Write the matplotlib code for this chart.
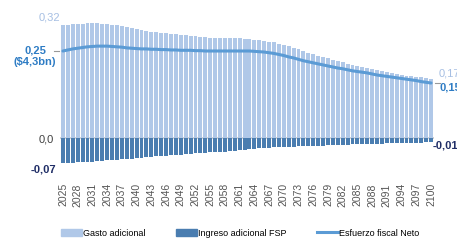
import matplotlib
matplotlib.use("Agg")
import matplotlib.pyplot as plt
from matplotlib.patches import Patch
from matplotlib.lines import Line2D

years = list(range(2025, 2101))
gasto = [0.324, 0.326, 0.327, 0.328, 0.329, 0.330, 0.330, 0.330, 0.329, 0.328,
         0.326, 0.324, 0.321, 0.318, 0.315, 0.313, 0.310, 0.308, 0.306, 0.305,
         0.303, 0.302, 0.300, 0.299, 0.297, 0.295, 0.294, 0.292, 0.291, 0.289,
         0.288, 0.288, 0.287, 0.287, 0.286, 0.286, 0.286, 0.285, 0.284, 0.283,
         0.281, 0.279, 0.277, 0.275, 0.271, 0.267, 0.263, 0.259, 0.255, 0.250,
         0.245, 0.241, 0.237, 0.233, 0.229, 0.225, 0.221, 0.218, 0.214, 0.211,
         0.208, 0.205, 0.201, 0.198, 0.195, 0.193, 0.190, 0.187, 0.184, 0.181,
         0.179, 0.177, 0.175, 0.174, 0.172, 0.170]
ingreso = [-0.073, -0.072, -0.071, -0.070, -0.069, -0.069, -0.068, -0.067, -0.065, -0.064,
           -0.063, -0.062, -0.061, -0.060, -0.059, -0.058, -0.057, -0.056, -0.055, -0.053,
           -0.052, -0.051, -0.050, -0.049, -0.048, -0.047, -0.045, -0.044, -0.043, -0.042,
           -0.041, -0.040, -0.040, -0.039, -0.038, -0.037, -0.035, -0.034, -0.032, -0.031,
           -0.030, -0.029, -0.028, -0.027, -0.027, -0.026, -0.026, -0.025, -0.024, -0.024,
           -0.023, -0.023, -0.022, -0.022, -0.021, -0.021, -0.020, -0.019, -0.019, -0.018,
           -0.018, -0.017, -0.017, -0.017, -0.016, -0.016, -0.015, -0.015, -0.015, -0.014,
           -0.014, -0.013, -0.013, -0.013, -0.012, -0.012]
neto = [0.250, 0.253, 0.256, 0.258, 0.260, 0.262, 0.263, 0.264, 0.264, 0.264,
        0.263, 0.262, 0.261, 0.259, 0.258, 0.257, 0.256, 0.256, 0.255, 0.255,
        0.254, 0.254, 0.253, 0.253, 0.252, 0.252, 0.252, 0.251, 0.251, 0.250,
        0.250, 0.250, 0.250, 0.250, 0.250, 0.250, 0.250, 0.250, 0.250, 0.249,
        0.248, 0.247, 0.245, 0.243, 0.240, 0.237, 0.233, 0.230, 0.226, 0.222,
        0.219, 0.216, 0.213, 0.210, 0.207, 0.204, 0.201, 0.199, 0.196, 0.193,
        0.191, 0.189, 0.187, 0.184, 0.181, 0.179, 0.177, 0.175, 0.173, 0.171,
        0.169, 0.167, 0.165, 0.162, 0.160, 0.158]
tick_years = list(range(2025, 2101, 3))
labels_left = ["0,32", "0,25\n($4,3bn)", "0,0", "-0,07"]
labels_right = ["0,17", "0,15", "-0,01"]
legend_labels = ["Gasto adicional", "Ingreso adicional FSP", "Esfuerzo fiscal Neto"]

c_light = "#b0c8e8"
c_dark = "#4a7db0"
c_line = "#5b9bd5"
c_lab_light = "#a6bfe3"
c_lab_mid = "#2e7cc4"
c_lab_navy = "#1f2d66"

plt.rcParams['font.family'] = ['Liberation Sans Narrow', 'Liberation Sans', 'DejaVu Sans']

W, H = 457, 244
fig = plt.figure(figsize=(W / 100, H / 100), dpi=100)
ymin, ymax = -0.09, 0.35
k = 348.0
top_px = 138 - ymax * k
bot_px = 138 - ymin * k
ax = fig.add_axes([60 / W, 1 - bot_px / H, 374 / W, (bot_px - top_px) / H])

ax.bar(years, gasto, width=0.8, color=c_light, linewidth=0)
ax.bar(years, ingreso, width=0.8, color=c_dark, linewidth=0)
ax.plot(years, neto, color=c_line, lw=2.2, solid_capstyle='round')
ax.axhline(0, color="#c8c8c8", lw=1.2, zorder=0.5)

ax.set_xlim(years[0] - 0.6, years[-1] + 0.6)
ax.set_ylim(ymin, ymax)
for s in ax.spines.values():
    s.set_visible(False)
ax.set_yticks([])
ax.set_xticks(tick_years)
ax.set_xticklabels([str(y) for y in tick_years], rotation=90, fontsize=7.5, color="#555555",
                   family=['Liberation Sans', 'DejaVu Sans'])
ax.tick_params(axis='x', length=0, pad=10)

fs = 8
fig.text(49 / W, 1 - 17 / H, labels_left[0], color=c_lab_light, fontsize=fs, ha='center', va='center',
         family=['Liberation Sans', 'DejaVu Sans'])
fig.text(35 / W, 1 - 56 / H, labels_left[1], color=c_lab_mid, fontsize=fs, ha='center', va='center',
         fontweight='bold', linespacing=1.2, family=['Liberation Sans', 'DejaVu Sans'])
fig.text(54 / W, 1 - 139 / H, labels_left[2], color="#404040", fontsize=fs, ha='right', va='center',
         family=['Liberation Sans', 'DejaVu Sans'])
fig.text(56 / W, 1 - 169 / H, labels_left[3], color=c_lab_navy, fontsize=fs, ha='right', va='center',
         fontweight='bold', family=['Liberation Sans', 'DejaVu Sans'])
ax.plot([years[0] - 1.9, years[0] - 0.9], [neto[0], neto[0]], color="#999999", lw=0.8, clip_on=False)
ax.plot([years[-1] + 0.9, years[-1] + 1.9], [neto[-1], neto[-1]], color="#999999", lw=0.8, clip_on=False)

fig.text(439 / W, 1 - 73 / H, labels_right[0], color=c_lab_light, fontsize=fs, ha='left', va='center',
         family=['Liberation Sans', 'DejaVu Sans'])
fig.text(439 / W, 1 - 87 / H, labels_right[1], color=c_lab_mid, fontsize=fs, ha='left', va='center',
         fontweight='bold', family=['Liberation Sans', 'DejaVu Sans'])
fig.text(433 / W, 1 - 146 / H, labels_right[2], color=c_lab_navy, fontsize=fs, ha='left', va='center',
         fontweight='bold', family=['Liberation Sans', 'DejaVu Sans'])

handles = [Patch(color=c_light), Patch(color=c_dark), Line2D([0], [0], color=c_line, lw=2.2)]
leg = fig.legend(handles, legend_labels, loc='center', bbox_to_anchor=(240 / W, 1 - 233 / H),
                 ncol=3, frameon=False, fontsize=6.5, handlelength=2.3, handleheight=0.9,
                 handletextpad=0.1, columnspacing=3.4)

fig.savefig("out.png", dpi=100)
